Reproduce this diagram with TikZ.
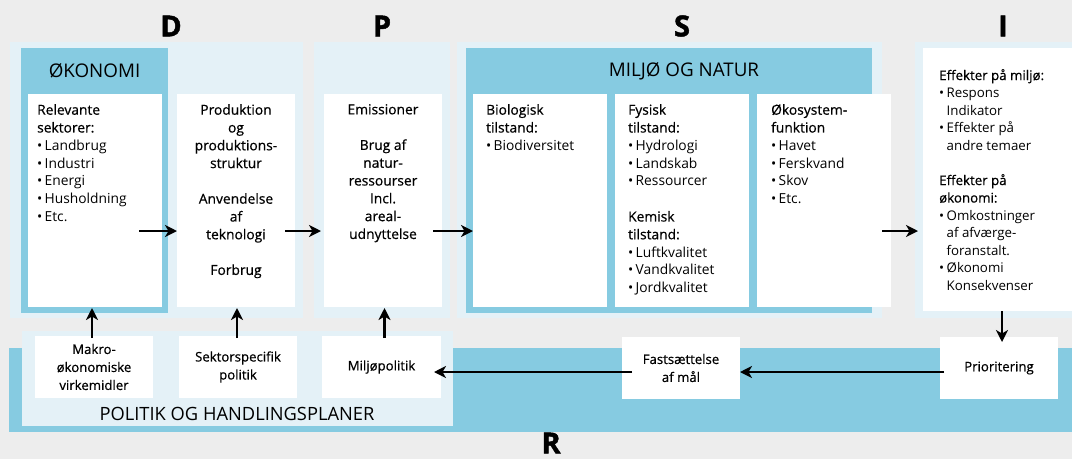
\documentclass[tikz,border=0pt]{standalone}
\usepackage{fontspec}
\setmainfont{Open Sans}
\newfontfamily\semi[FakeBold=0.6]{Open Sans}
\newfontfamily\heavy[BoldFeatures={FakeBold=1.6}]{Open Sans}
\usetikzlibrary{arrows.meta,calc}
\definecolor{bgc}{RGB}{237,237,237}
\definecolor{lightp}{RGB}{228,241,247}
\definecolor{midb}{RGB}{134,203,225}
\newcommand\bu{\makebox[7.5pt][l]{\textbullet}}
\newcommand\ind{\hspace*{7.5pt}}
\newcommand\bx[6]{\node[#2, anchor=north west, minimum width={#5-#3}, minimum height={#6-#4}] (#1) at (#3,#4) {};}
\tikzset{
  plain/.style={inner sep=0pt, outer sep=0pt, draw=none},
  lpanel/.style={plain, fill=lightp},
  mpanel/.style={plain, fill=midb},
  wbox/.style={plain, fill=white},
  arr/.style={line width=2.6pt, -{Stealth[length=12pt,width=12pt,inset=3.5pt]}},
  body/.style={inner sep=0pt, font=\fontsize{13.8}{17.8}\selectfont},
  small/.style={inner sep=0pt, align=center, font=\semi\fontsize{13.2}{18}\selectfont},
  title/.style={inner sep=0pt, font=\fontsize{18.8}{20}\selectfont},
  letter/.style={inner sep=0pt, font=\heavy\bfseries\fontsize{29}{29}\selectfont}
}
\begin{document}
\begin{tikzpicture}[x=1pt,y=-1pt]
\fill[bgc] (0,0) rectangle (1072,459);
\useasboundingbox (0,0) rectangle (1072,459);
% R band
\bx{rband}{mpanel}{9}{348}{1072}{432}
% D
\bx{dpanel}{lpanel}{10}{42}{303}{318}
\bx{okbox}{mpanel}{21}{48}{168}{313}
\bx{eco}{wbox}{28}{94}{162}{307}
\bx{prod}{wbox}{177}{94}{295}{307}
% P
\bx{ppanel}{lpanel}{314}{42}{450}{318}
\bx{pres}{wbox}{324}{94}{442}{307}
% S
\bx{spanel}{lpanel}{457}{42}{882}{318}
\bx{sbox}{mpanel}{466}{48}{872}{313}
\bx{bio}{wbox}{473}{94}{607}{307}
\bx{fys}{wbox}{615}{94}{749}{307}
\bx{oko}{wbox}{757}{94}{891}{307}
% I
\bx{ipanel}{lpanel}{915}{42}{1072}{318}
\bx{iwhite}{wbox}{923}{48}{1072}{311}
% R
\bx{polpanel}{lpanel}{22}{331}{453}{426}
\bx{makro}{wbox}{35}{336}{153}{398}
\bx{sektor}{wbox}{179}{336}{297}{398}
\bx{mpol}{wbox}{322}{336}{441}{398}
\bx{fast}{wbox}{622}{337}{740}{399}
\bx{prior}{wbox}{940}{337}{1058}{399}

% letters
\node[letter] (lD) at (171,26) {D};
\node[letter] (lP) at (382,26) {P};
\node[letter] (lS) at (682,26) {S};
\node[letter] (lI) at (1003,26) {I};
\node[letter] (lR) at (551,443) {R};

% titles
\node[title] (tok) at (okbox.north |- 0,71) {ØKONOMI};
\node[title] (tmn) at (684,71) {MILJØ OG NATUR};
\node[title, font=\fontsize{18.3}{20}\selectfont] (tpol) at (237,414) {POLITIK OG HANDLINGSPLANER};

% texts
\node[body, anchor=north west, align=left] (teco) at (37,104) {{\semi Relevante}\\{\semi sektorer:}\\\bu Landbrug\\\bu Industri\\\bu Energi\\\bu Husholdning\\\bu Etc.};
\node[body, anchor=north, align=center, font=\semi\fontsize{13.8}{17.8}\selectfont] (tprod) at (236,104) {Produktion\\og\\produktions-\\struktur\\[17.8pt]Anvendelse\\af\\teknologi\\[17.8pt]Forbrug};
\node[body, anchor=north, align=center, font=\semi\fontsize{13.8}{17.8}\selectfont] (tpres) at (383,104) {Emissioner\\[17.8pt]Brug af\\natur-\\ressourser\\Incl.\\areal-\\udnyttelse};
\node[body, anchor=north west, align=left] (tbio) at (486,104) {{\semi Biologisk}\\{\semi tilstand:}\\\bu Biodiversitet};
\node[body, anchor=north west, align=left] (tfys) at (628,104) {{\semi Fysisk}\\{\semi tilstand:}\\\bu Hydrologi\\\bu Landskab\\\bu Ressourcer\\[17.8pt]{\semi Kemisk}\\{\semi tilstand:}\\\bu Luftkvalitet\\\bu Vandkvalitet\\\bu Jordkvalitet};
\node[body, anchor=north west, align=left] (toko) at (771,104) {{\semi Økosystem-}\\{\semi funktion}\\\bu Havet\\\bu Ferskvand\\\bu Skov\\\bu Etc.};
\node[body, anchor=north west, align=left, font=\fontsize{13.3}{17.5}\selectfont] (ti) at (939,69) {{\semi Effekter på miljø:}\\\bu Respons\\\ind Indikator\\\bu Effekter på\\\ind andre temaer\\[17.5pt]{\semi Effekter på}\\{\semi økonomi:}\\\bu Omkostninger\\\ind af afværge-\\\ind foranstalt.\\\bu Økonomi\\\ind Konsekvenser};

\node[small] (tmak) at (makro.center) {Makro-\\økonomiske\\virkemidler};
\node[small] (tsek) at (sektor.center) {Sektorspecifik\\politik};
\node[small] (tmp) at (mpol.center) {Miljøpolitik};
\node[small] (tfa) at (fast.center) {Fastsættelse\\af mål};
\node[small] (tpr) at (prior.center) {Prioritering};

% connectors
\coordinate (row) at (0,231);
\coordinate (row2) at (0,372);
\draw[arr] ($(eco.east|-row)+(-23,0)$) -- (prod.west|-row);
\draw[arr] ($(prod.east|-row)+(-10,0)$) -- ($(pres.west|-row)+(-3,0)$);
\draw[arr] ($(pres.east|-row)+(-9,0)$) -- (bio.west|-row);
\draw[arr] ($(oko.east|-row)+(-9,0)$) -- ($(ipanel.west|-row)+(3,0)$);
\draw[arr] ($(prior.north|-iwhite.south)+(3,0)$) -- ($(prior.north)+(3,5)$);
\draw[arr] ($(prior.west|-row2)+(4,0)$) -- (fast.east|-row2);
\draw[arr] ($(fast.west|-row2)+(10,0)$) -- ($(mpol.east|-row2)+(-7,0)$);
\draw[arr] ($(makro.north)+(-2,2)$) -- ($(makro.north|-eco.south)+(-2,1)$);
\draw[arr] ($(sektor.north)+(-1,2)$) -- ($(sektor.north|-prod.south)+(-1,1)$);
\draw[arr] ($(mpol.north)+(3,2)$) -- ($(mpol.north|-pres.south)+(3,1)$);
\end{tikzpicture}
\end{document}
